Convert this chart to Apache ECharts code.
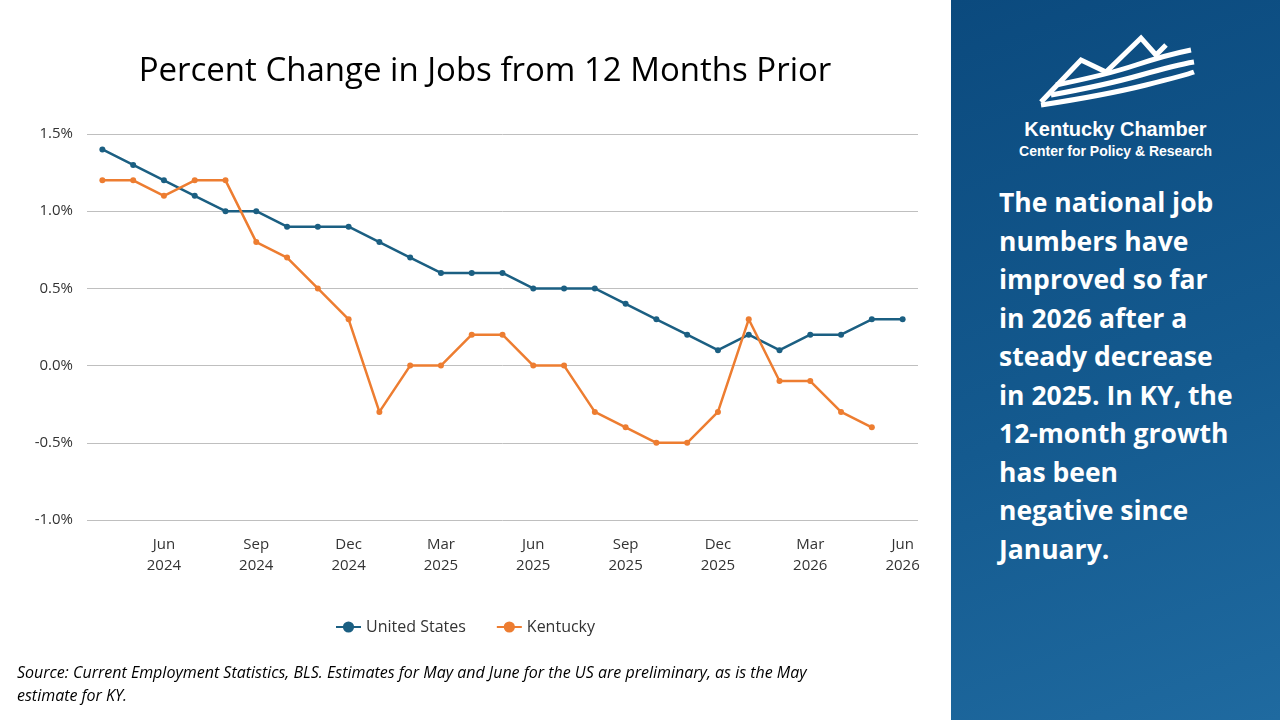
<!DOCTYPE html>
<html><head><meta charset="utf-8">
<script src="https://cdn.jsdelivr.net/npm/echarts@6/dist/echarts.min.js"></script>
<style>
body{margin:0;width:1280px;height:720px;overflow:hidden;font-family:Lato,"Open Sans",sans-serif;background:#fff;position:relative}
#c{position:absolute;left:0;top:0;width:951px;height:720px}
#side{position:absolute;left:951px;top:0;width:329px;height:720px;background:linear-gradient(160deg,#0b4a7e,#145a8f 55%,#1f6aa0);color:#fff}
#brand{position:absolute;left:0;width:329px;top:118px;text-align:center;font-family:"Liberation Sans",Arial,sans-serif;font-weight:bold}
#msg{position:absolute;left:48px;top:183px;white-space:nowrap;font-family:"Open Sans",sans-serif;font-weight:bold;font-size:26.5px;line-height:38.5px}
#src{position:absolute;left:17px;top:661px;white-space:nowrap;font-style:italic;font-size:16px;line-height:23px;color:#000;font-family:"Open Sans",sans-serif}
</style></head><body>
<div id="c"></div>
<div id="side">
<svg style="position:absolute;left:85px;top:30px" width="160" height="80" viewBox="0 0 160 80">
<g fill="none" stroke="#fff" stroke-width="5">
<path d="M5 72 L45 30 L70 42 L105 8 L120 25 L130 15"/>
<path d="M20 55 Q70 45 100 35 T155 20"/>
<path d="M15 65 Q70 55 105 45 T158 32"/>
<path d="M5 75 Q70 65 110 55 T158 42"/>
</g></svg>
<div id="brand"><div style="font-size:20px">Kentucky Chamber</div><div style="font-size:14px;margin-top:2px">Center for Policy &amp; Research</div></div>
<div id="msg">The national job<br>numbers have<br>improved so far<br>in 2026 after a<br>steady decrease<br>in 2025. In KY, the<br>12-month growth<br>has been<br>negative since<br>January.</div>
</div>
<div id="src">Source: Current Employment Statistics, BLS. Estimates for May and June for the US are preliminary, as is the May<br>estimate for KY.</div>
<script>
const months=['Apr\n2024','May\n2024','Jun\n2024','Jul\n2024','Aug\n2024','Sep\n2024','Oct\n2024','Nov\n2024','Dec\n2024','Jan\n2025','Feb\n2025','Mar\n2025','Apr\n2025','May\n2025','Jun\n2025','Jul\n2025','Aug\n2025','Sep\n2025','Oct\n2025','Nov\n2025','Dec\n2025','Jan\n2026','Feb\n2026','Mar\n2026','Apr\n2026','May\n2026','Jun\n2026'];
const us=[1.4,1.3,1.2,1.1,1.0,1.0,0.9,0.9,0.9,0.8,0.7,0.6,0.6,0.6,0.5,0.5,0.5,0.4,0.3,0.2,0.1,0.2,0.1,0.2,0.2,0.3,0.3];
const ky=[1.2,1.2,1.1,1.2,1.2,0.8,0.7,0.5,0.3,-0.3,0.0,0.0,0.2,0.2,0.0,0.0,-0.3,-0.4,-0.5,-0.5,-0.3,0.3,-0.1,-0.1,-0.3,-0.4,null];
const ch=echarts.init(document.getElementById('c'));
ch.setOption({
 animation:false,
 textStyle:{fontFamily:'"Open Sans",sans-serif'},
 title:{text:'Percent Change in Jobs from 12 Months Prior',left:480,textAlign:'center',top:50,textStyle:{fontSize:33,fontWeight:'normal',color:'#000'}},
 grid:{left:87,right:33,top:134,bottom:200},
 legend:{bottom:80,left:330,itemGap:30,textStyle:{fontSize:16,color:'#333'},data:['United States','Kentucky']},
 xAxis:{type:'category',data:months,boundaryGap:true,axisLine:{show:false},axisTick:{show:false},
  axisLabel:{interval:(i)=>i%3===2,fontSize:15,color:'#333',lineHeight:21,margin:14}},
 yAxis:{type:'value',min:-1,max:1.5,interval:0.5,axisLabel:{formatter:v=>v.toFixed(1)+'%',fontSize:15,color:'#333',margin:14},
  splitLine:{lineStyle:{color:'#bfbfbf'}}},
 series:[
  {name:'United States',type:'line',data:us,symbol:'circle',symbolSize:6,itemStyle:{color:'#1b5f82'},lineStyle:{width:2.5,color:'#1b5f82'}},
  {name:'Kentucky',type:'line',data:ky,symbol:'circle',symbolSize:6,itemStyle:{color:'#ed7d31'},lineStyle:{width:2.5,color:'#ed7d31'}}
 ]
});
</script></body></html>
